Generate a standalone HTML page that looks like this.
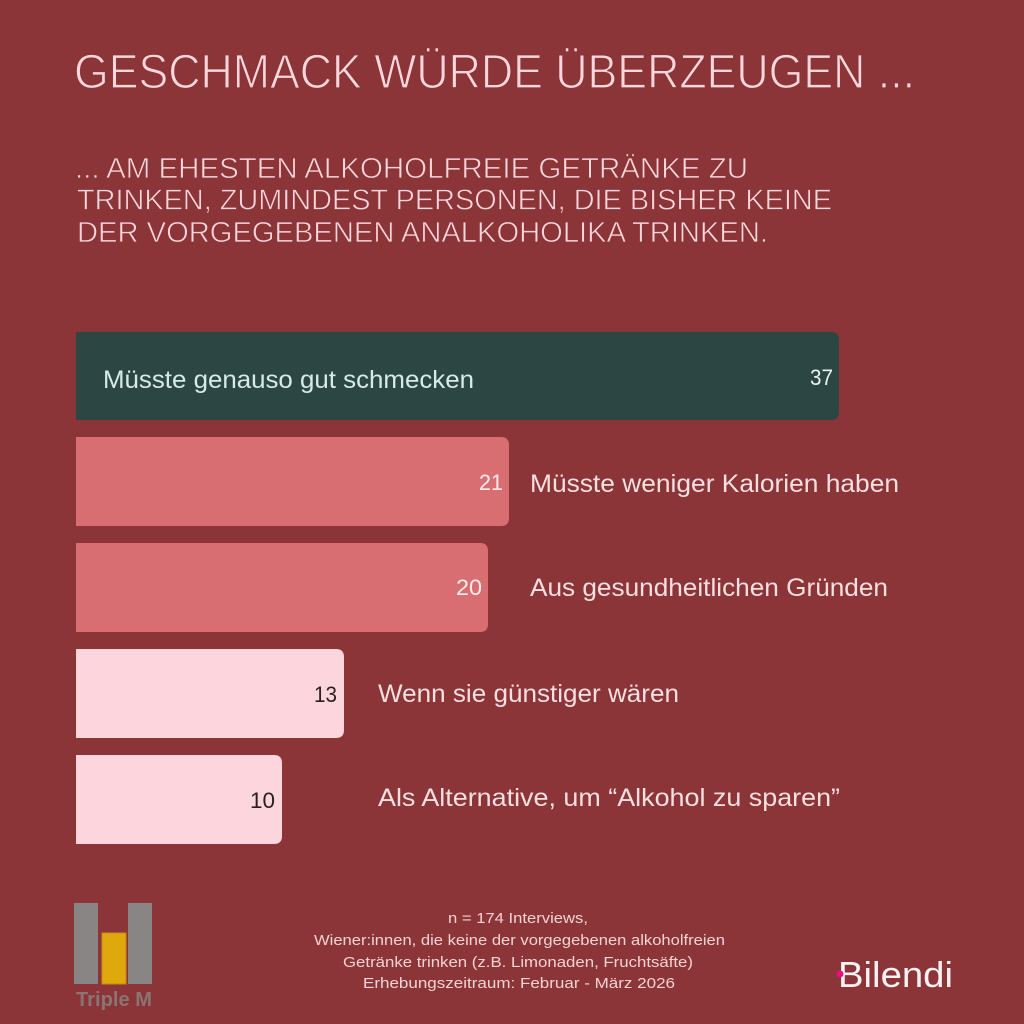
<!DOCTYPE html>
<html>
<head>
<meta charset="utf-8">
<style>
  html, body { margin:0; padding:0; background:#8b3538; }
  svg { display:block; }
  text { font-family: "Liberation Sans", "DejaVu Sans", sans-serif; }
</style>
</head>
<body>
<svg width="1024" height="1024" viewBox="0 0 1024 1024" xmlns="http://www.w3.org/2000/svg">
  <rect x="0" y="0" width="1024" height="1024" fill="#8b3538"/>

  <!-- Title -->
  <text x="74" y="88" font-size="48" fill="#fbd6dc" stroke="#8b3538" stroke-width="1.2" textLength="841" lengthAdjust="spacingAndGlyphs">GESCHMACK WÜRDE ÜBERZEUGEN ...</text>

  <!-- Subtitle -->
  <g stroke="#8b3538" stroke-width="0.7">
  <text x="75" y="178" font-size="29" fill="#fbd6dc" textLength="673" lengthAdjust="spacingAndGlyphs">... AM EHESTEN ALKOHOLFREIE GETRÄNKE ZU</text>
  <text x="77" y="209.5" font-size="29" fill="#fbd6dc" textLength="755" lengthAdjust="spacingAndGlyphs">TRINKEN, ZUMINDEST PERSONEN, DIE BISHER KEINE</text>
  <text x="77" y="242" font-size="29" fill="#fbd6dc" textLength="691" lengthAdjust="spacingAndGlyphs">DER VORGEGEBENEN ANALKOHOLIKA TRINKEN.</text>
  </g>

  <!-- Bars -->
  <path d="M76 332 H831 Q839 332 839 340 V412 Q839 420 831 420 H76 Z" fill="#2c4644"/>
  <path d="M76 437 H501 Q509 437 509 445 V518 Q509 526 501 526 H76 Z" fill="#d96e72"/>
  <path d="M76 543 H480 Q488 543 488 551 V624 Q488 632 480 632 H76 Z" fill="#d96e72"/>
  <path d="M76 649 H336 Q344 649 344 657 V730 Q344 738 336 738 H76 Z" fill="#fdd6dd"/>
  <path d="M76 755 H274 Q282 755 282 763 V836 Q282 844 274 844 H76 Z" fill="#fdd6dd"/>

  <!-- Bar 1 -->
  <text x="103" y="388" font-size="25" fill="#d6ebe8" textLength="371" lengthAdjust="spacingAndGlyphs">Müsste genauso gut schmecken</text>
  <text x="810" y="385" font-size="22" fill="#eaf2f0" textLength="23" lengthAdjust="spacingAndGlyphs">37</text>

  <!-- Bar 2 -->
  <text x="479" y="490" font-size="22" fill="#fdeced" textLength="24" lengthAdjust="spacingAndGlyphs">21</text>
  <text x="530" y="492" font-size="25" fill="#f5dfe0" textLength="369" lengthAdjust="spacingAndGlyphs">Müsste weniger Kalorien haben</text>

  <!-- Bar 3 -->
  <text x="456" y="595" font-size="22" fill="#fdeced" textLength="26" lengthAdjust="spacingAndGlyphs">20</text>
  <text x="530" y="596" font-size="25" fill="#f5dfe0" textLength="358" lengthAdjust="spacingAndGlyphs">Aus gesundheitlichen Gründen</text>

  <!-- Bar 4 -->
  <text x="314" y="702" font-size="22" fill="#2a1e1f" textLength="23" lengthAdjust="spacingAndGlyphs">13</text>
  <text x="378" y="702" font-size="25" fill="#f5dfe0" textLength="301" lengthAdjust="spacingAndGlyphs">Wenn sie günstiger wären</text>

  <!-- Bar 5 -->
  <text x="250" y="808" font-size="22" fill="#2a1e1f" textLength="25" lengthAdjust="spacingAndGlyphs">10</text>
  <text x="378" y="806" font-size="25" fill="#f5dfe0" textLength="462" lengthAdjust="spacingAndGlyphs">Als Alternative, um “Alkohol zu sparen”</text>

  <!-- Footer -->
  <text x="448" y="923" font-size="15" fill="#f2d3d4" textLength="140" lengthAdjust="spacingAndGlyphs">n = 174 Interviews,</text>
  <text x="314" y="945" font-size="15" fill="#f2d3d4" textLength="411" lengthAdjust="spacingAndGlyphs">Wiener:innen, die keine der vorgegebenen alkoholfreien</text>
  <text x="343" y="967" font-size="15" fill="#f2d3d4" textLength="350" lengthAdjust="spacingAndGlyphs">Getränke trinken (z.B. Limonaden, Fruchtsäfte)</text>
  <text x="363" y="988" font-size="15" fill="#f2d3d4" textLength="312" lengthAdjust="spacingAndGlyphs">Erhebungszeitraum: Februar - März  2026</text>

  <!-- Triple M logo -->
  <rect x="74" y="903" width="24" height="81" fill="#898585"/>
  <rect x="128" y="903" width="24" height="81" fill="#898585"/>
  <rect x="102" y="933" width="24" height="51" fill="#dfa80c" stroke="#c98a10" stroke-width="1"/>
  <text x="76" y="1006" font-size="20" font-weight="bold" fill="#8a7474" textLength="76" lengthAdjust="spacingAndGlyphs">Triple M</text>

  <!-- Bilendi logo -->
  <text x="838" y="987" font-size="36" fill="#fbf3f3" textLength="115" lengthAdjust="spacingAndGlyphs">Bilendi</text>
  <circle cx="840" cy="974" r="3.5" fill="#e0127c"/>
</svg>
</body>
</html>
